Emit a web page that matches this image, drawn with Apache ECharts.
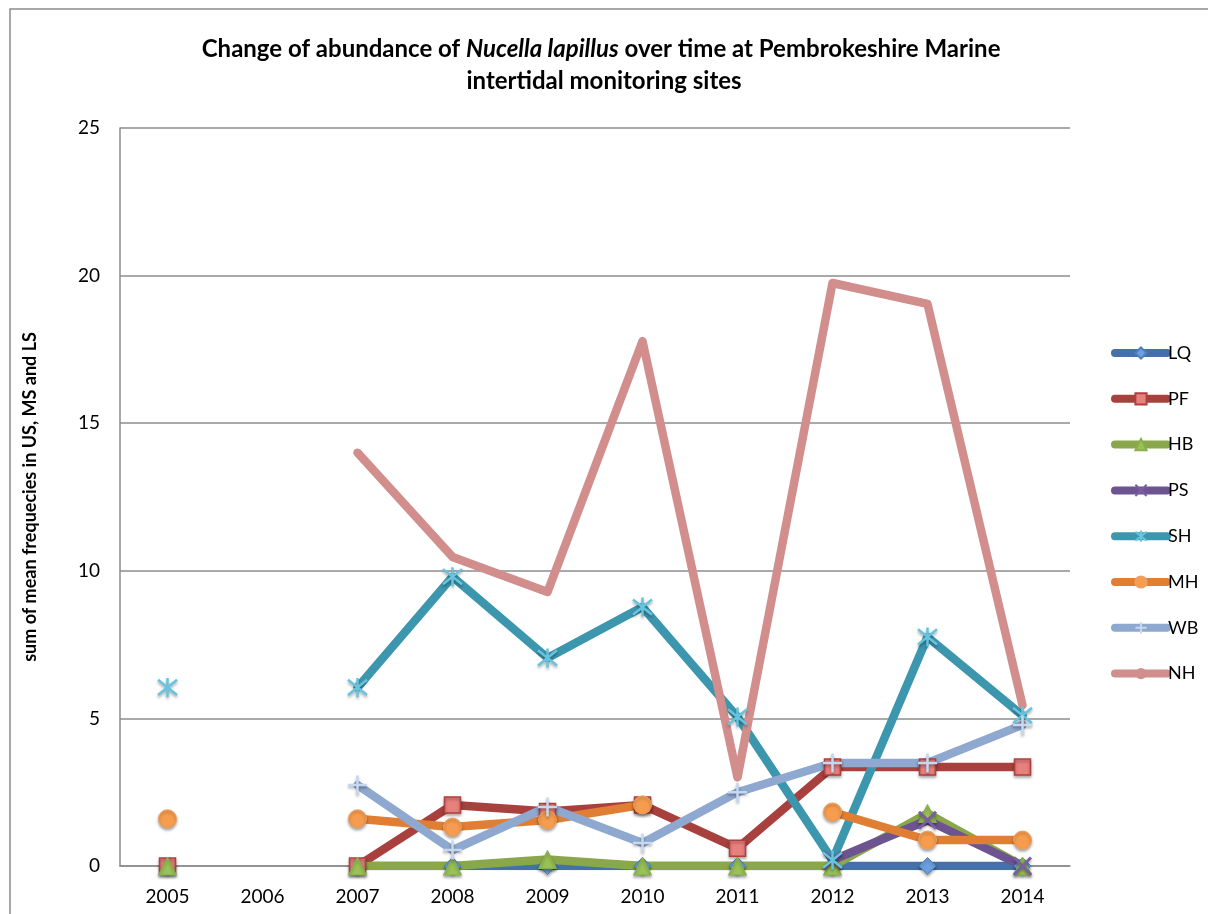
<!DOCTYPE html>
<html>
<head>
<meta charset="utf-8">
<script src="https://cdn.jsdelivr.net/npm/echarts@6/dist/echarts.min.js"></script>
<style>
  html, body { margin: 0; padding: 0; background: #fff; }
  #chart { width: 1208px; height: 914px; }
</style>
</head>
<body>
<div id="chart"></div>
<script>
const years = ['2005', '2006', '2007', '2008', '2009', '2010', '2011', '2012', '2013', '2014']
const yTicks = [0, 5, 10, 15, 20, 25]

const lq = [0, null, 0, 0, 0, 0, 0, 0, 0, 0]
const pf = [0, null, 0, 2.07, 1.85, 2.07, 0.6, 3.35, 3.35, 3.35]
const hb = [0, null, 0, 0, 0.22, 0, 0, 0, 1.78, 0]
const ps = [null, null, null, null, null, null, null, 0.2, 1.55, 0]
const sh = [6.05, null, 6.05, 9.8, 7.05, 8.77, 5.05, 0.2, 7.76, 5.1]
const mh = [1.6, null, 1.6, 1.32, 1.56, 2.07, null, 1.83, 0.88, 0.88]
const wb = [null, null, 2.74, 0.54, 2.0, 0.78, 2.5, 3.49, 3.49, 4.78]
const nh = [null, null, 14.0, 10.47, 9.28, 17.78, 3.0, 19.75, 19.04, 5.45]

const FONT = 'Lato, "Open Sans", sans-serif'

// marker outlines drawn as strokes
const xPath = 'path://M0,0 L10,10 M10,0 L0,10'
const starPath = 'path://M0,1 L10,9 M10,1 L0,9 M5,0 L5,10'
const plusPath = 'path://M5,0 L5,10 M0,5 L10,5'

const shadow = { shadowBlur: 3, shadowColor: 'rgba(0,0,0,0.35)', shadowOffsetY: 2 }

function mkSeries(name, data, lineColor, symbol, size, itemStyle, showSymbol = true) {
  return {
    name,
    type: 'line',
    data,
    symbol,
    symbolSize: size,
    showSymbol,
    showAllSymbol: true,
    lineStyle: { color: lineColor, width: 8.5, cap: 'round', join: 'round' },
    itemStyle: Object.assign({}, shadow, itemStyle),
    emphasis: { disabled: true },
  }
}

const chart = echarts.init(document.getElementById('chart'))
chart.setOption({
  animation: false,
  backgroundColor: '#fff',
  graphic: [{
    type: 'rect',
    shape: { x: 10, y: 9, width: 1400, height: 1100 },
    style: { fill: 'none', stroke: '#8c8c8c', lineWidth: 1.5 },
    silent: true,
  }],
  title: {
    left: 'center',
    top: 28,
    text: '{b|Change of abundance of }{i|Nucella lapillus}{b| over time at Pembrokeshire Marine }\n{b|intertidal monitoring sites}',
    textStyle: {
      rich: {
        b: { fontFamily: FONT, fontWeight: 'bold', fontSize: 24, color: '#000', lineHeight: 32 },
        i: { fontFamily: FONT, fontWeight: 'bold', fontStyle: 'italic', fontSize: 24, color: '#000', lineHeight: 32 },
      },
    },
  },
  grid: { left: 120, top: 128, width: 950, height: 738, containLabel: false },
  legend: {
    orient: 'vertical',
    left: 1106,
    top: 339,
    itemWidth: 52,
    itemHeight: 14,
    itemGap: 27.8,
    lineStyle: { width: 8 },
    textStyle: { fontFamily: FONT, fontSize: 18, color: '#000', padding: [0, 0, 0, -4] },
    data: ['LQ', 'PF', 'HB', 'PS', 'SH', 'MH', 'WB', 'NH'],
  },
  xAxis: {
    type: 'category',
    data: years,
    boundaryGap: true,
    axisLine: { lineStyle: { color: '#8c8c8c', width: 1.5 } },
    axisTick: { show: false },
    axisLabel: { fontFamily: FONT, fontSize: 19, color: '#000', margin: 21 },
  },
  yAxis: {
    type: 'value',
    min: yTicks[0],
    max: yTicks[yTicks.length - 1],
    interval: 5,
    name: 'sum of mean frequecies in US, MS and LS',
    nameLocation: 'middle',
    nameRotate: 90,
    nameGap: 81,
    nameTextStyle: { fontFamily: FONT, fontWeight: 'bold', fontSize: 18, color: '#000' },
    axisLine: { show: true, lineStyle: { color: '#8c8c8c', width: 1.5 } },
    axisTick: { show: false },
    axisLabel: { fontFamily: FONT, fontSize: 19, color: '#000', margin: 20 },
    splitLine: { lineStyle: { color: '#8c8c8c', width: 1.5 } },
  },
  series: [
    mkSeries('LQ', lq, '#4571a8', 'diamond', 17, { color: '#6c9fdd', borderColor: '#4a7fc0', borderWidth: 1 }),
    mkSeries('PF', pf, '#a8403d', 'rect', 16, { color: '#e8807e', borderColor: '#b0403d', borderWidth: 1.5 }),
    mkSeries('HB', hb, '#8aa84b', 'triangle', 18, { color: '#98c256', borderColor: '#8ab04c', borderWidth: 1 }),
    mkSeries('PS', ps, '#6d5490', xPath, 17, { color: 'none', borderColor: '#7a5fa0', borderWidth: 3 }),
    mkSeries('SH', sh, '#3c96ae', starPath, 19, { color: 'none', borderColor: '#68c4de', borderWidth: 2.5 }),
    mkSeries('MH', mh, '#e07f33', 'circle', 18, { color: '#f69c4e', borderColor: '#f0a060', borderWidth: 1 }),
    mkSeries('WB', wb, '#8ea8cf', plusPath, 19, { color: 'none', borderColor: '#c6d8f2', borderWidth: 2.5 }),
    mkSeries('NH', nh, '#d18e8d', 'circle', 0, { color: '#d18e8d', shadowBlur: 0, shadowOffsetY: 0 }, false),
  ],
})
</script>
</body>
</html>
